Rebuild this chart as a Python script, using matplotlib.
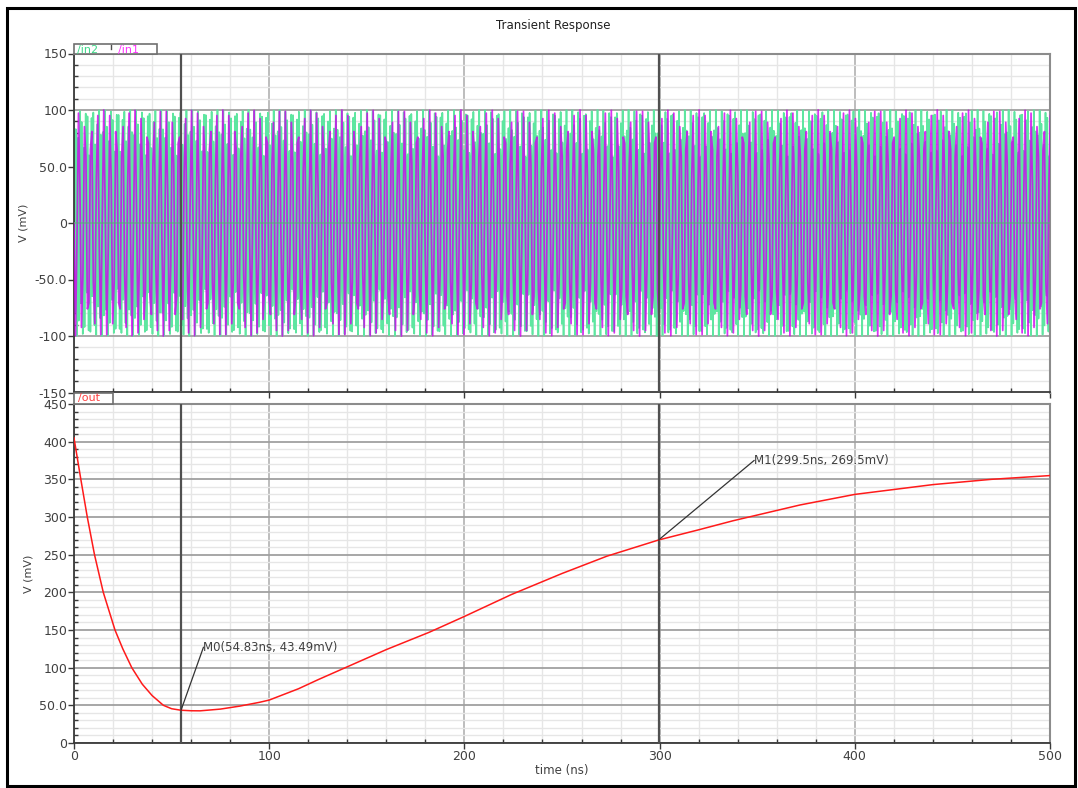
import numpy as np
import matplotlib
matplotlib.use("Agg")
import matplotlib.pyplot as plt
from matplotlib.ticker import MultipleLocator, FuncFormatter
from matplotlib.patches import Rectangle
from matplotlib.lines import Line2D

# ---------------- data ----------------
# input sources (/in1, /in2): sinusoids, amplitude and frequency
in_amp_mV = 100.0
in1_freq_GHz = 1.0
in2_freq_GHz = 1.0067
in2_phase_deg = 90.0
in1_step_ns = 0.7625     # simulator output step of /in1
in2_step_ns = 0.3        # simulator output step of /in2
sim_stop_ns = 500.0

# output (/out)
out_t_ns = [0, 3.5, 6.8, 10.5, 15, 21, 25, 29.6, 35, 40, 45.8, 50, 54.83, 60, 64.6,
            75, 85, 95, 100, 115, 125, 139, 160, 182, 200, 224, 250, 273, 299.5,
            320, 337.6, 372, 400, 440, 470, 500]
out_mV = [405, 350, 300, 250, 200, 150, 125, 100, 78, 63, 50, 45.5, 43.49, 42.8, 42.7,
          45, 49, 54, 57, 72, 84, 100, 124, 147, 168, 197, 225, 248, 269.5,
          283, 295, 316, 330, 343, 350, 355]

markers = [("M0", 54.83, 43.49), ("M1", 299.5, 269.5)]
marker_label_pos = [(66.3, 127.0), (348.4, 375.0)]

title = "Transient Response"

# ---------------- figure ----------------
W, H = 1078, 788
fig = plt.figure(figsize=(W / 100, H / 100), dpi=100)
fig.patch.set_facecolor("white")

def fx(px):
    return px / W

def fy(py):
    return 1 - py / H

left, right = 74, 1050
ax1 = fig.add_axes([fx(left), fy(392.5), fx(right - left), fy(53.5) - fy(392.5)])
ax2 = fig.add_axes([fx(left), fy(743), fx(right - left), fy(404) - fy(743)])

txtc = "#404040"
tickfs = 9

t1 = np.arange(0, sim_stop_ns + in1_step_ns, in1_step_ns)
t2 = np.arange(0, sim_stop_ns + in2_step_ns, in2_step_ns)
in1 = in_amp_mV * np.sin(2 * np.pi * in1_freq_GHz * t1)
in2 = in_amp_mV * np.sin(2 * np.pi * in2_freq_GHz * t2 + np.deg2rad(in2_phase_deg))

for ax in (ax1, ax2):
    ax.set_xlim(0, 500)
    ax.xaxis.set_major_locator(MultipleLocator(100))
    ax.xaxis.set_minor_locator(MultipleLocator(20))
    ax.yaxis.set_major_locator(MultipleLocator(50))
    ax.yaxis.set_minor_locator(MultipleLocator(10))
    ax.grid(which="minor", color="#e6e6e6", lw=1.0)
    ax.grid(which="major", axis="x", color="#b8b8b8", lw=1.3)
    ax.grid(which="major", axis="y", color="#a0a0a0", lw=1.3)
    ax.set_axisbelow(True)
    for s in ("top", "right"):
        ax.spines[s].set_color("#8c8c8c")
        ax.spines[s].set_linewidth(1.5)
    for s in ("left", "bottom"):
        ax.spines[s].set_color("#3a3a3a")
        ax.spines[s].set_linewidth(1.3)
    ax.tick_params(which="major", direction="out", length=4, width=1,
                   color="#3a3a3a", labelsize=tickfs, labelcolor=txtc, pad=1)
    ax.tick_params(which="minor", direction="in", length=3, width=1, color="#3a3a3a")
    ax.set_ylabel("V (mV)", fontsize=8, color=txtc, labelpad=4)
    for m, mt, mv in markers:
        ax.axvline(mt, color="#505050", lw=1.6, zorder=4)

def fmt(v, pos):
    v = int(round(v))
    if abs(v) == 50:
        return f"{v:.1f}"
    return f"{v}"

ax1.set_ylim(-150, 150)
ax1.yaxis.set_major_formatter(FuncFormatter(fmt))
ax1.tick_params(axis="x", which="both", labelbottom=False)
ax1.plot(t2, in2, color="#5ee6a0", lw=1.2, zorder=2)
ax1.plot(t1, in1, color="#d000f0", lw=1.25, alpha=0.8, zorder=3)
ax1.axhline(0, color="#5aa878", lw=1.2, alpha=0.6, zorder=3.5)

ax2.set_ylim(0, 450)
ax2.yaxis.set_major_formatter(FuncFormatter(fmt))
ax2.plot(out_t_ns, out_mV, color="#ff1a1a", lw=1.1, zorder=5)
ax2.set_xlabel("time (ns)", fontsize=8.5, color=txtc, labelpad=1)

for (m, mt, mv), (lx, ly) in zip(markers, marker_label_pos):
    ax2.plot([mt, lx], [mv, ly], color="#333333", lw=0.9, zorder=6)
    ax2.text(lx, ly, f"{m}({mt:g}ns, {mv:g}mV)", fontsize=8.5, color=txtc,
             ha="left", va="center", zorder=7)

# trace-name tabs
def tab(x0, x1, y0, y1):
    r = Rectangle((fx(x0), fy(y1)), fx(x1 - x0), fy(y0) - fy(y1), transform=fig.transFigure,
                  facecolor="white", edgecolor="#707070", lw=1.2, zorder=10)
    fig.patches.append(r)

tab(74, 157, 44.5, 53.5)
fig.lines.append(Line2D([fx(111), fx(111)], [fy(44.5), fy(49)], transform=fig.transFigure,
                        color="#505050", lw=1.0, zorder=11))
fig.text(fx(77), fy(49.5), "/in2", color="#3fd98a", fontsize=8, va="center", ha="left", zorder=12)
fig.text(fx(118), fy(49.5), "/in1", color="#ff33ff", fontsize=8, va="center", ha="left", zorder=12)

tab(74, 113, 393, 404)
fig.text(fx(78), fy(398.5), "/out", color="#ff4040", fontsize=8, va="center", ha="left", zorder=12)

fig.text(fx(553), fy(26), title, fontsize=8.5, color="#202020", ha="center", va="center")

# outer frame
fig.patches.append(Rectangle((fx(7), fy(786)), fx(1068), fy(8) - fy(786), transform=fig.transFigure,
                             facecolor="none", edgecolor="black", lw=2.2, zorder=20))

fig.savefig("out.png", dpi=100)
